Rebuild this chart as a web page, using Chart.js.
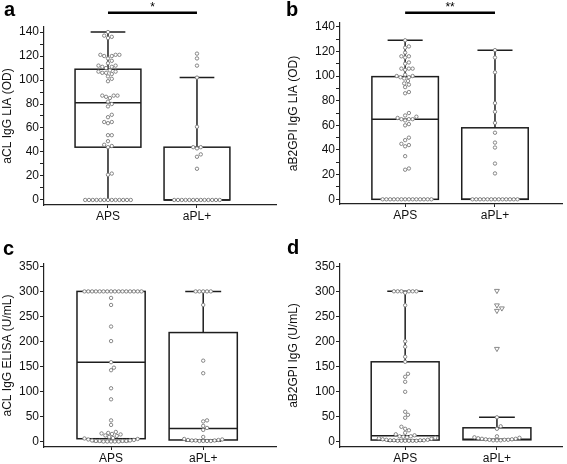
<!DOCTYPE html>
<html>
<head>
<meta charset="utf-8">
<script src="https://cdn.jsdelivr.net/npm/chart.js@4.4.1/dist/chart.umd.min.js"></script>
<style>
  html, body { margin: 0; padding: 0; background: #fff; }
  #fig { position: relative; width: 567px; height: 464px; }
  .panel { position: absolute; }
</style>
</head>
<body>
<div id="fig">
  <div class="panel" style="left:0;top:0"><canvas id="pa" width="283" height="232"></canvas></div>
  <div class="panel" style="left:283px;top:0"><canvas id="pb" width="284" height="232"></canvas></div>
  <div class="panel" style="left:0;top:232px"><canvas id="pc" width="283" height="232"></canvas></div>
  <div class="panel" style="left:283px;top:232px"><canvas id="pd" width="284" height="232"></canvas></div>
</div>
<script>
const groups = ['APS', 'aPL+'];
const odTicks = [0, 20, 40, 60, 80, 100, 120, 140];
const umlTicks = [0, 50, 100, 150, 200, 250, 300, 350];

// a: aCL IgG LIA (OD)
const aclLiaAps = [0, 0, 0, 0, 0, 0, 0, 0, 0, 0, 0, 0, 0, 21, 22, 44, 45, 46, 49, 54, 54,
  64, 65, 65, 69, 71, 78, 80, 82, 85, 86, 87, 87, 87, 99, 101, 103, 105, 106, 106, 107, 107,
  108, 110, 111, 111, 112, 112, 114, 116, 118, 120, 120, 121, 121, 121, 135, 136, 137, 140];
const aclLiaApl = [0, 0, 0, 0, 0, 0, 0, 0, 0, 0, 0, 0, 0, 26, 36, 38, 43, 44, 44, 61, 102, 112, 118, 122];
// low whisker, q1, median, q3, high whisker
const aclLiaStats = [[0, 44, 81, 109, 140], [0, 0, 0, 44, 102]];

// b: aB2GPI IgG LIA (OD)
const b2LiaAps = [0, 0, 0, 0, 0, 0, 0, 0, 0, 0, 0, 0, 0, 0, 24, 25, 35, 43, 44, 45, 48, 50,
  60, 61, 64, 65, 65, 65, 66, 67, 68, 70, 86, 87, 91, 93, 94, 96, 98, 99, 99, 100, 100, 101,
  105, 106, 106, 106, 110, 111, 115, 116, 116, 119, 123, 124, 129];
const b2LiaApl = [0, 0, 0, 0, 0, 0, 0, 0, 0, 0, 0, 0, 0, 21, 29, 42, 46, 54, 62, 71, 78, 103, 115, 121];
const b2LiaStats = [[0, 0, 65, 99.5, 129], [0, 0, 0, 58, 121]];

// c: aCL IgG ELISA (U/mL)
const aclElisaAps = [1, 1, 1, 1, 1, 2, 2, 2, 2, 3, 3, 4, 5, 6, 7, 8, 10, 12, 13, 15, 16, 17, 18, 20,
  34, 43, 85, 107, 143, 148, 159, 201, 230, 273, 287,
  300, 300, 300, 300, 300, 300, 300, 300, 300, 300, 300, 300, 300, 300, 300, 300];
const aclElisaApl = [2, 2, 2, 2, 3, 3, 3, 4, 4, 5, 6, 10, 24, 28, 32, 41, 43, 137, 162, 273,
  300, 300, 300, 300, 300];
const aclElisaStats = [[1, 6.5, 159, 300, 300], [2, 4, 27, 218, 300]];

// d: aB2GPI IgG (U/mL)
const b2ElisaAps = [1, 1, 1, 1, 1, 1, 2, 2, 2, 2, 3, 3, 4, 5, 6, 7, 8, 9, 10, 10, 12, 14, 17, 22, 25, 29,
  47, 53, 59, 99, 119, 129, 135, 159, 169, 189, 200, 272, 297, 300, 300, 300, 300, 300, 300];
const b2ElisaApl = [2, 2, 2, 3, 3, 3, 4, 4, 5, 5, 6, 7, 8, 10, 25, 30, 48];
const b2ElisaAplOut = [185, 261, 266, 272, 301];
const b2ElisaStats = [[0, 2.5, 11, 159, 300], [3, 3, 4, 27, 48]];

const FONT = '"Liberation Sans", Arial, Helvetica, sans-serif';
Chart.defaults.font.family = FONT;
Chart.defaults.color = '#1a1a1a';

// beeswarm offsets, computed in pixel space so circles do not overlap
function swarm(values, center, pxX, pxY, d) {
  const placed = [];
  const out = [];
  values.slice().sort((a, b) => a - b).forEach(v => {
    const py = v * pxY;
    let off = 0;
    for (let k = 0; k < 400; k++) {
      const o = (k % 2 ? 1 : -1) * Math.ceil(k / 2) * d / 4;
      const ok = placed.every(p => {
        const dy = Math.abs(p.py - py);
        if (dy >= d) return true;
        return Math.abs(p.px - o) >= Math.sqrt(d * d - dy * dy) - 0.01;
      });
      if (ok) { off = o; break; }
    }
    placed.push({ px: off, py });
    out.push({ x: center + off / pxX, y: v });
  });
  return out;
}

const boxPlugin = {
  id: 'boxes',
  beforeDatasetsDraw(chart, args, opts) {
    const { ctx, scales: { x, y } } = chart;
    ctx.save();
    ctx.strokeStyle = '#1e1e1e';
    ctx.lineWidth = 1.5;
    opts.stats.forEach((s, i) => {
      const [lo, q1, med, q3, hi] = s;
      const c = i + 1;
      const xl = x.getPixelForValue(c - 0.37), xr = x.getPixelForValue(c + 0.37);
      const xc = x.getPixelForValue(c);
      const cl = x.getPixelForValue(c - 0.195), cr = x.getPixelForValue(c + 0.195);
      const py = v => y.getPixelForValue(v);
      ctx.fillStyle = '#fff';
      ctx.fillRect(xl, py(q3), xr - xl, py(q1) - py(q3));
      ctx.strokeRect(xl, py(q3), xr - xl, py(q1) - py(q3));
      ctx.beginPath();
      ctx.moveTo(xl, py(med)); ctx.lineTo(xr, py(med));
      if (hi > q3) {
        ctx.moveTo(xc, py(q3)); ctx.lineTo(xc, py(hi));
        ctx.moveTo(cl, py(hi)); ctx.lineTo(cr, py(hi));
      }
      if (lo < q1) {
        ctx.moveTo(xc, py(q1)); ctx.lineTo(xc, py(lo));
        ctx.moveTo(cl, py(lo)); ctx.lineTo(cr, py(lo));
      }
      ctx.stroke();
    });
    ctx.restore();
  },
  afterDraw(chart, args, opts) {
    const { ctx, scales: { x } } = chart;
    ctx.save();
    ctx.fillStyle = '#000';
    ctx.font = 'bold 20px ' + FONT;
    ctx.textAlign = 'left';
    ctx.textBaseline = 'alphabetic';
    ctx.fillText(opts.letter, opts.letterPos[0], opts.letterPos[1]);
    if (opts.sig) {
      const x1 = x.getPixelForValue(1), x2 = x.getPixelForValue(2);
      ctx.strokeStyle = '#000';
      ctx.lineWidth = 2.5;
      ctx.beginPath();
      ctx.moveTo(x1, 12.8); ctx.lineTo(x2, 12.8);
      ctx.stroke();
      ctx.font = '12px ' + FONT;
      ctx.textAlign = 'center';
      ctx.fillText(opts.sig, (x1 + x2) / 2, 10.5);
    }
    ctx.restore();
  }
};

const panels = [
  { id: 'pa', w: 283, h: 232, area: [44, 27, 276, 205], xr: [0.281, 2.888], yr: [-4.2, 144.2],
    ticks: odTicks, minor: true, title: 'aCL IgG LIA (OD)', titlePad: 0.8,
    series: [aclLiaAps, aclLiaApl], out: null, stats: aclLiaStats, letter: 'a', letterPos: [4, 16], sig: '*' },
  { id: 'pb', w: 284, h: 232, area: [57, 23, 282, 204], xr: [0.275, 2.747], yr: [-3.8, 143],
    ticks: odTicks, minor: true, title: 'aB2GPI IgG LIA (OD)', titlePad: 3.8,
    series: [b2LiaAps, b2LiaApl], out: null, stats: b2LiaStats, letter: 'b', letterPos: [3, 16], sig: '**' },
  { id: 'pc', w: 283, h: 232, area: [44, 32, 276, 215], xr: [0.272, 2.79], yr: [-10, 354.6],
    ticks: umlTicks, minor: false, title: 'aCL IgG ELISA (U/mL)', titlePad: 0.8,
    series: [aclElisaAps, aclElisaApl], out: null, stats: aclElisaStats, letter: 'c', letterPos: [3, 22.5], sig: null },
  { id: 'pd', w: 284, h: 232, area: [57, 32, 282, 215], xr: [0.29, 2.71], yr: [-11.4, 354.6],
    ticks: umlTicks, minor: false, title: 'aB2GPI IgG (U/mL)', titlePad: 3.8,
    series: [b2ElisaAps, b2ElisaApl], out: b2ElisaAplOut, stats: b2ElisaStats, letter: 'd', letterPos: [4, 22], sig: null }
];

panels.forEach(p => {
  const [L, T, R, B] = p.area;
  const pxX = (R - L) / (p.xr[1] - p.xr[0]);
  const pxY = (B - T) / (p.yr[1] - p.yr[0]);
  const pointStyle = { pointRadius: 1.7, pointBorderWidth: 0.9, pointBorderColor: '#7a7a7a',
    pointBackgroundColor: '#fff', showLine: false, clip: false };
  const datasets = p.series.map((vals, i) => Object.assign({
    data: swarm(vals, i + 1, pxX, pxY, 3.8)
  }, pointStyle));
  if (p.out) {
    datasets.push(Object.assign({}, pointStyle, {
      data: swarm(p.out, 2, pxX, pxY, 5),
      pointStyle: 'triangle', pointRotation: 180, pointRadius: 2.8
    }));
  }
  let allTicks = p.ticks.slice();
  if (p.minor) {
    for (let i = 0; i < p.ticks.length - 1; i++) allTicks.push((p.ticks[i] + p.ticks[i + 1]) / 2);
    allTicks.sort((a, b) => a - b);
  }
  new Chart(document.getElementById(p.id), {
    type: 'scatter',
    data: { datasets },
    plugins: [boxPlugin],
    options: {
      responsive: false,
      animation: false,
      layout: { padding: { left: 0, top: T, right: p.w - R, bottom: 0 } },
      plugins: {
        legend: { display: false },
        tooltip: { enabled: false },
        boxes: { stats: p.stats, letter: p.letter, letterPos: p.letterPos, sig: p.sig }
      },
      scales: {
        x: {
          type: 'linear', min: p.xr[0], max: p.xr[1],
          afterFit: s => { s.height = p.h - B; },
          afterBuildTicks: s => { s.ticks = [{ value: 1 }, { value: 2 }]; },
          grid: { display: true, drawOnChartArea: false, tickLength: 3, color: '#222' },
          border: { display: true, color: '#222', width: 1.2 },
          ticks: { callback: v => groups[v - 1], font: { size: 12 }, color: '#111', padding: 1,
            maxRotation: 0, autoSkip: false }
        },
        y: {
          type: 'linear', min: p.yr[0], max: p.yr[1],
          afterFit: s => { s.width = L; },
          afterBuildTicks: s => { s.ticks = allTicks.map(v => ({ value: v })); },
          grid: { display: true, drawOnChartArea: false, tickLength: 4, color: '#222' },
          border: { display: true, color: '#222', width: 1.2 },
          ticks: { callback: v => p.ticks.includes(v) ? String(v) : '', font: { size: 12 },
            color: '#111', padding: 1, autoSkip: false },
          title: { display: true, text: p.title, font: { size: 12 }, color: '#111',
            padding: { top: p.titlePad, bottom: 0 } }
        }
      }
    }
  });
});
</script>
</body>
</html>
